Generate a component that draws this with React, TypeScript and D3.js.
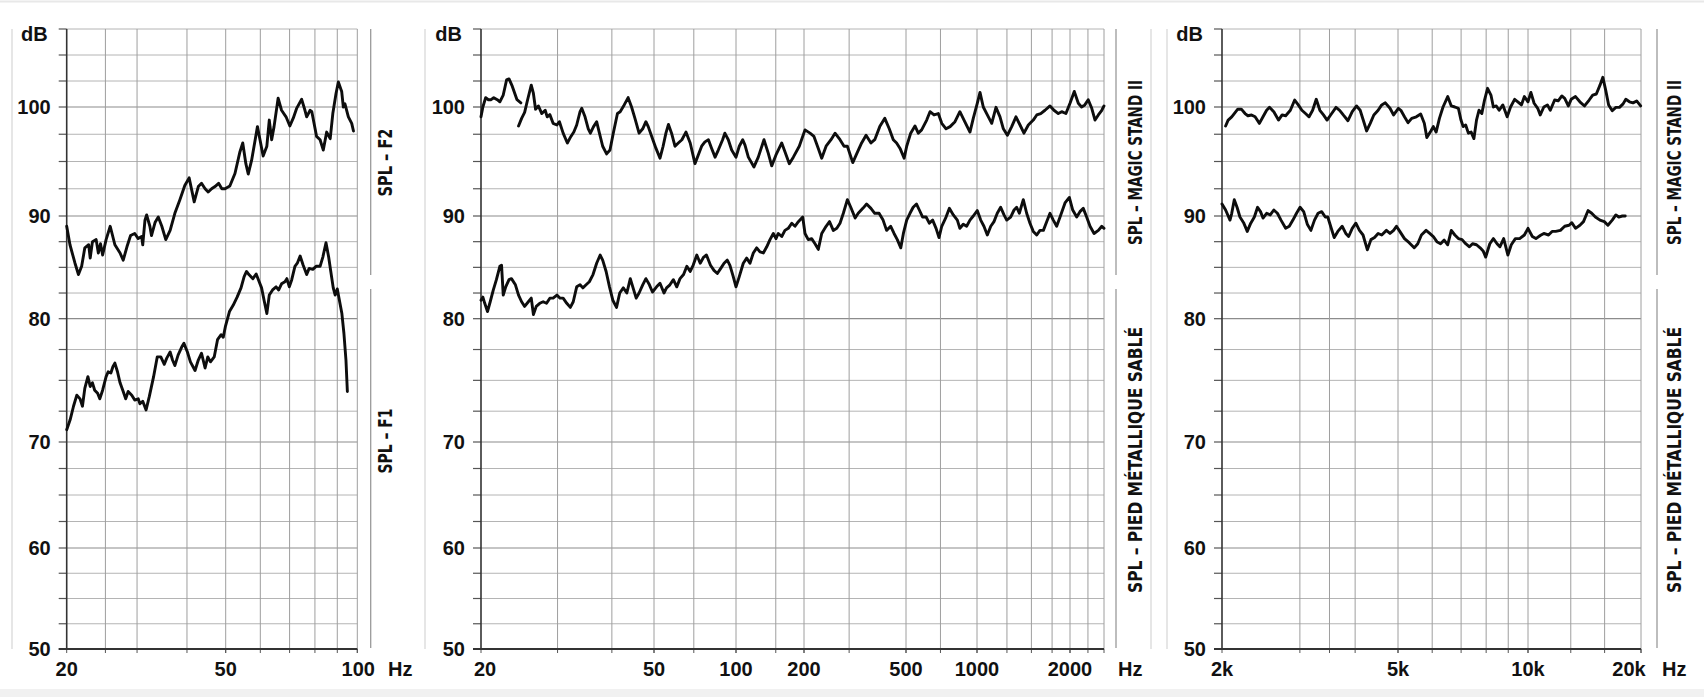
import React from "react";
import * as d3 from "d3";

type Pt = [number, number];

// ---------------- DATA ----------------
// dB axis
const dbLabels = [50, 60, 70, 80, 90, 100];
const dbGrid = [50, 52.5, 55, 57.5, 60, 62.5, 65, 67.5, 70, 72.5, 75, 77.5, 80, 82.5, 85, 87.5, 90, 92.5, 95, 97.5, 100, 102.5, 105, 107.5];
const dbStops = [50, 60, 70, 80, 90, 100, 107.5];

// Panel 1 : 20 - 100 Hz
const p1Stops = [20, 50, 100];
const p1Grid = [25, 30, 40, 50, 60, 70, 80, 90, 100];
const p1TickFreqs = [20, 50, 100];
const p1TickLabels = ["20", "50", "100"];

// Panel 2 : 20 - 2500 Hz
const p2Stops = [20, 50, 100, 200, 500, 1000, 2000, 2500];
const p2Grid = [30, 40, 50, 70, 100, 150, 200, 300, 500, 700, 1000, 1250, 1500, 1750, 2000, 2250, 2500];
const p2TickFreqs = [20, 50, 100, 200, 500, 1000, 2000];
const p2TickLabels = ["20", "50", "100", "200", "500", "1000", "2000"];

// Panel 3 : 2k - 20k Hz
const p3Stops = [2000, 5000, 10000, 20000];
const p3Grid = [3000, 3500, 4000, 5000, 6000, 7000, 8000, 9000, 10000, 13000, 16000, 20000];
const p3TickFreqs = [2000, 5000, 10000, 20000];
const p3TickLabels = ["2k", "5k", "10k", "20k"];

// Series [Hz, dB]
const p1_F2: Pt[] = [
  [20.0, 89.0], [20.38, 87.2], [20.98, 85.4], [21.4, 84.3], [21.8, 85.1], [22.2, 86.9], [22.7, 87.2], [22.9, 85.9],
  [23.2, 87.5], [23.7, 87.7], [24.0, 86.4], [24.3, 87.3], [24.6, 86.2], [25.1, 87.7], [25.7, 89.0], [26.4, 87.2],
  [27.2, 86.4], [27.7, 85.7], [28.3, 87.0], [28.9, 88.1], [29.6, 88.3], [30.2, 87.8], [30.8, 88.0], [31.0, 87.2],
  [31.4, 89.6], [31.7, 90.1], [32.3, 89.0], [32.6, 88.1], [33.3, 89.4], [33.9, 89.9], [34.6, 89.0], [35.4, 87.7],
  [36.3, 88.6], [37.3, 90.25], [38.4, 91.5], [39.5, 92.8], [40.5, 93.5], [41.1, 92.4], [41.7, 91.3], [42.7, 92.7],
  [43.5, 93.0], [44.4, 92.5], [45.2, 92.2], [46.1, 92.5], [47.0, 92.7], [48.0, 93.0], [48.9, 92.5], [49.8, 92.5],
  [51.1, 92.75], [52.5, 93.9], [53.9, 95.9], [54.7, 96.7], [55.6, 94.8], [56.3, 93.85], [57.3, 95.1], [58.4, 97.0],
  [59.1, 98.2], [59.9, 97.0], [60.9, 95.5], [62.1, 96.4], [62.9, 98.8], [63.7, 97.0], [64.5, 98.2], [65.9, 100.84],
  [67.1, 99.7], [68.7, 99.1], [70.1, 98.26], [71.4, 99.0], [72.7, 99.9], [74.6, 100.74], [75.9, 99.7], [76.6, 99.1],
  [78.0, 99.7], [78.7, 99.57], [80.7, 97.3], [82.2, 97.0], [83.6, 96.05], [85.1, 97.7], [86.7, 97.1], [87.9, 99.4],
  [89.4, 101.3], [90.5, 102.4], [92.1, 101.5], [92.9, 100.0], [93.7, 100.3], [95.4, 99.1], [97.1, 98.5], [98.0, 97.8],
];

const p1_F1: Pt[] = [
  [20.0, 71.0], [20.4, 71.8], [20.8, 72.9], [21.2, 73.8], [21.6, 73.5], [21.9, 72.9], [22.2, 74.35], [22.6, 75.3],
  [22.9, 74.5], [23.2, 74.8], [23.5, 74.2], [23.9, 73.95], [24.2, 73.5], [24.6, 74.2], [25.1, 75.3], [25.4, 75.7],
  [25.8, 75.6], [26.1, 76.1], [26.4, 76.4], [26.8, 75.7], [27.2, 74.8], [27.7, 74.1], [28.1, 73.5], [28.5, 74.1],
  [29.1, 73.8], [29.6, 73.4], [30.2, 73.5], [30.5, 73.1], [31.0, 73.3], [31.6, 72.6], [32.2, 73.7], [33.0, 75.3],
  [33.7, 76.9], [34.4, 76.9], [35.1, 76.3], [35.6, 76.8], [36.3, 77.3], [36.8, 76.65], [37.3, 76.2], [38.0, 77.05],
  [38.8, 77.7], [39.3, 78.0], [40.1, 77.3], [40.8, 76.5], [41.9, 75.8], [42.7, 76.65], [43.5, 77.2], [44.4, 76.0],
  [45.1, 76.9], [45.8, 76.5], [46.8, 76.9], [47.7, 78.3], [48.7, 78.7], [49.3, 78.5], [49.9, 79.35], [51.0, 80.7],
  [52.0, 81.3], [53.1, 82.1], [54.2, 83.0], [55.1, 84.1], [55.8, 84.6], [56.5, 84.3], [57.7, 83.9], [58.7, 84.35],
  [59.4, 83.8], [60.4, 83.0], [61.2, 81.8], [62.1, 80.5], [62.9, 82.3], [64.0, 82.8], [65.2, 83.1], [66.1, 82.8],
  [67.1, 83.4], [68.3, 83.6], [69.0, 83.9], [69.9, 83.1], [70.8, 83.8], [72.0, 85.1], [72.9, 85.4], [74.0, 86.1],
  [75.2, 85.2], [76.6, 84.3], [77.6, 84.9], [79.1, 84.8], [80.5, 85.1], [82.2, 85.1], [83.4, 86.0], [84.8, 87.4],
  [86.0, 86.0], [86.9, 84.7], [88.1, 83.0], [89.0, 82.3], [90.0, 82.9], [91.0, 81.8], [92.2, 80.5], [93.2, 78.8],
  [94.2, 76.65], [94.9, 74.1],
];

const p2_magicStand_a: Pt[] = [
  [20.0, 99.1], [20.2, 100.0], [20.5, 100.9], [20.8, 100.7], [21.1, 100.7], [21.4, 100.9], [21.8, 100.7],
  [22.1, 100.5], [22.5, 101.15], [22.9, 102.6], [23.2, 102.7], [23.6, 102.0], [24.2, 100.7], [24.7, 100.4],
];

const p2_magicStand_b: Pt[] = [
  [24.4, 98.26], [24.8, 98.96], [25.2, 99.5], [25.6, 100.7], [26.1, 102.1], [26.4, 101.3], [26.7, 99.8], [27.1, 100.1],
  [27.6, 99.4], [28.1, 99.7], [28.4, 99.1], [28.8, 99.3], [29.3, 98.5], [29.9, 98.35], [30.3, 98.65], [30.9, 97.6],
  [31.6, 96.7], [32.2, 97.3], [32.7, 97.7], [33.2, 98.35], [33.8, 99.57], [34.1, 99.88], [34.7, 99.1], [35.3, 98.0],
  [35.7, 97.6], [36.3, 98.2], [36.9, 98.65], [37.4, 97.7], [38.1, 96.4], [38.9, 95.7], [39.6, 96.05], [40.3, 97.6],
  [41.2, 99.4], [41.8, 99.57], [42.7, 100.2], [43.6, 100.9], [44.4, 100.0], [45.2, 98.96], [46.2, 97.6], [47.1, 98.0],
  [47.9, 98.65], [48.5, 98.2], [49.4, 97.3], [50.85, 96.2], [52.6, 95.3], [54.0, 96.4], [55.3, 97.6], [56.5, 98.4],
  [58.0, 97.6], [59.7, 96.4], [61.4, 96.7], [63.3, 97.0], [65.5, 97.7], [67.9, 96.7], [70.7, 94.8], [72.7, 95.6],
  [74.8, 96.4], [76.9, 96.8], [79.2, 97.0], [81.4, 96.2], [83.8, 95.4], [86.1, 96.05], [89.3, 97.0], [91.0, 97.6],
  [93.7, 97.0], [96.4, 96.05], [100, 95.4], [103.4, 96.4], [107.1, 97.0], [109.6, 96.5], [113.4, 95.4],
  [120.1, 94.5], [125.5, 95.4], [133.0, 97.0], [139.0, 95.75], [143.9, 94.6], [150.3, 95.6], [159.4, 96.7],
  [164.7, 95.9], [172.2, 94.8], [179.4, 95.4], [190.6, 96.4], [201.8, 97.9], [211.1, 97.6], [218.7, 97.3],
  [227.4, 96.2], [234.5, 95.3], [243.9, 96.4], [254.9, 97.0], [264.3, 97.6], [276.4, 97.0], [286.6, 96.4],
  [295.3, 96.4], [310.0, 94.9], [321.6, 95.75], [335.6, 96.7], [349.3, 97.4], [364.9, 96.7], [377.6, 97.0],
  [395.0, 98.2], [413.3, 98.96], [430.2, 98.0], [446.0, 97.0], [459.5, 96.7], [474.0, 96.2], [491.7, 95.3],
  [503.4, 96.4], [523.4, 97.6], [545.7, 98.26], [563.6, 97.6], [582.5, 97.9], [612.0, 98.8], [632.1, 99.57],
  [657.3, 99.27], [685.4, 99.4], [708.8, 98.5], [739.2, 98.0], [769.0, 98.2], [806.6, 98.65], [846.0, 99.57],
  [887.3, 98.65], [933.6, 97.7], [964.2, 98.96], [1002, 100.36], [1022.6, 101.4], [1048, 100.0], [1080, 99.27],
  [1116, 98.5], [1152, 99.97], [1187, 99.1], [1217, 98.0], [1254, 97.4], [1295, 98.2], [1337, 99.1], [1378, 98.35],
  [1419, 97.6], [1466, 98.35], [1521, 98.8], [1561, 99.27], [1608, 99.4], [1660, 99.7], [1723, 100.1], [1775, 99.7],
  [1833, 99.4], [1880, 99.57], [1940, 99.4], [2000, 100.36], [2057, 101.5], [2112, 100.36], [2158, 100.0],
  [2204, 100.2], [2254, 100.7], [2307, 99.88], [2357, 98.8], [2409, 99.27], [2464, 99.7], [2500, 100.1],
];

const p2_piedMetal: Pt[] = [
  [20.0, 81.8], [20.2, 82.1], [20.4, 81.5], [20.7, 80.7], [21.0, 81.65], [21.35, 82.8], [21.7, 83.8], [22.1, 85.1],
  [22.3, 85.2], [22.5, 82.3], [22.8, 83.1], [23.2, 83.8], [23.5, 83.9], [24.0, 83.3], [24.4, 82.3], [24.8, 81.65],
  [25.2, 81.2], [25.7, 81.65], [26.1, 82.0], [26.4, 80.4], [26.8, 81.2], [27.3, 81.5], [27.8, 81.65], [28.3, 81.5],
  [28.8, 82.0], [29.3, 82.0], [29.9, 82.3], [30.4, 82.0], [30.9, 82.0], [31.5, 81.5], [32.1, 81.1], [32.6, 81.65],
  [33.2, 83.1], [33.8, 83.3], [34.3, 83.0], [34.9, 83.3], [35.5, 83.6], [36.2, 84.3], [36.9, 85.4], [37.6, 86.2],
  [38.1, 85.7], [38.8, 84.6], [39.5, 83.1], [40.2, 81.8], [41.0, 81.1], [41.7, 82.5], [42.5, 83.0], [43.3, 82.5],
  [44.1, 83.9], [44.9, 82.8], [45.5, 82.0], [46.2, 82.5], [47.1, 83.3], [47.9, 83.9], [48.8, 83.3], [49.6, 82.6],
  [51.1, 83.1], [52.6, 83.45], [54.4, 82.5], [55.6, 83.0], [57.2, 83.3], [58.9, 83.8], [60.6, 83.1], [62.3, 83.9],
  [64.2, 84.3], [66.0, 85.1], [67.9, 84.6], [69.6, 85.2], [71.8, 86.2], [73.9, 85.4], [76.1, 86.0], [77.9, 86.2],
  [80.6, 85.2], [83.0, 84.7], [85.4, 84.4], [87.9, 84.9], [90.4, 85.4], [92.9, 85.7], [95.0, 85.2], [97.7, 84.1],
  [100, 83.1], [103.4, 84.1], [107.7, 85.4], [111.5, 85.9], [115.3, 85.4], [119.3, 86.4], [123.5, 86.9], [127.7, 86.5],
  [132.1, 86.4], [136.8, 87.0], [141.4, 87.7], [146.3, 88.3], [150.3, 87.8], [153.9, 88.3], [159.4, 88.0],
  [164.7, 88.6], [170.4, 88.8], [176.5, 89.3], [182.5, 89.0], [188.8, 89.45], [197.4, 89.9], [201.8, 88.3],
  [207.8, 87.7], [214.2, 87.8], [220.8, 87.3], [227.4, 86.75], [234.5, 88.3], [243.9, 89.0], [251.5, 89.45],
  [260.2, 88.6], [268.5, 88.8], [276.4, 89.3], [284.8, 90.25], [295.3, 91.5], [304.4, 90.8], [316.6, 89.8],
  [325.5, 90.25], [339.4, 90.7], [351.0, 91.1], [364.9, 90.7], [377.6, 90.25], [392.5, 90.25], [407.0, 89.6],
  [420.0, 88.6], [435.8, 89.0], [449.1, 88.3], [462.4, 87.7], [477.2, 86.9], [488.4, 88.3], [503.4, 89.6],
  [519.9, 90.25], [536.3, 90.8], [554.1, 91.1], [569.5, 90.55], [588.2, 89.9], [608.4, 89.9], [627.7, 89.3],
  [648.5, 89.6], [670.6, 88.8], [690.1, 87.9], [708.8, 89.0], [739.2, 89.9], [763.5, 90.7], [793.5, 90.1],
  [825.3, 89.6], [846.0, 88.8], [874.3, 89.2], [903.7, 89.0], [933.6, 89.6], [964.2, 90.0], [1002, 90.5],
  [1028, 89.6], [1053, 89.0], [1080, 88.15], [1108, 89.0], [1135, 89.45], [1163, 90.25], [1193, 90.8], [1223, 90.1],
  [1248, 89.6], [1285, 89.9], [1318, 90.55], [1344, 90.8], [1371, 90.25], [1412, 91.5], [1448, 90.25], [1484, 89.3],
  [1521, 88.5], [1561, 88.15], [1599, 88.6], [1640, 88.6], [1681, 89.45], [1723, 90.25], [1766, 89.6], [1811, 89.0],
  [1857, 89.9], [1927, 91.2], [1990, 91.7], [2036, 90.55], [2090, 89.9], [2135, 90.4], [2182, 90.7], [2231, 89.9],
  [2281, 89.0], [2342, 88.3], [2409, 88.6], [2464, 89.0], [2500, 88.8],
];

const p3_magicStand: Pt[] = [
  [2038, 98.26], [2065, 98.8], [2104, 99.1], [2132, 99.4], [2171, 99.8], [2212, 99.8], [2255, 99.4], [2289, 99.2],
  [2332, 99.27], [2376, 99.1], [2430, 98.5], [2476, 99.1], [2523, 99.7], [2561, 99.97], [2619, 99.57], [2684, 98.8],
  [2735, 99.27], [2786, 99.2], [2855, 99.7], [2920, 100.67], [2975, 100.2], [3031, 99.7], [3089, 99.4], [3147, 99.1],
  [3206, 99.7], [3267, 100.74], [3329, 99.7], [3392, 99.27], [3456, 98.8], [3521, 99.27], [3621, 99.97], [3690, 99.7],
  [3760, 99.27], [3853, 98.74], [3940, 99.57], [4030, 100.1], [4106, 99.7], [4184, 98.65], [4247, 97.8], [4327, 98.5],
  [4409, 99.27], [4509, 99.7], [4594, 100.2], [4681, 100.4], [4796, 99.88], [4887, 99.27], [5010, 99.88], [5077, 99.7],
  [5176, 99.1], [5276, 98.56], [5379, 98.96], [5514, 99.1], [5643, 99.36], [5753, 98.5], [5831, 97.2], [5958, 97.8],
  [6036, 98.2], [6127, 97.7], [6236, 98.96], [6357, 100.0], [6518, 101.0], [6643, 100.1], [6770, 100.0], [6899, 99.88],
  [6995, 98.8], [7078, 98.2], [7173, 98.35], [7276, 97.6], [7385, 97.7], [7495, 97.1], [7599, 98.8], [7700, 99.7],
  [7818, 99.4], [7931, 100.67], [8061, 101.8], [8207, 101.15], [8315, 100.0], [8445, 100.1], [8574, 99.7],
  [8745, 100.2], [8949, 99.1], [9112, 100.0], [9312, 100.74], [9473, 100.5], [9655, 100.2], [9809, 101.0],
  [10000, 100.5], [10178, 101.4], [10382, 100.36], [10614, 99.88], [10780, 99.27], [11020, 100.0], [11266, 100.2],
  [11467, 99.7], [11775, 100.67], [12036, 100.6], [12307, 101.06], [12525, 100.84], [12805, 100.1], [13031, 100.74],
  [13384, 101.0], [13747, 100.5], [14142, 100.1], [14553, 100.67], [14873, 101.15], [15207, 101.25], [15551, 102.1],
  [15826, 102.86], [16110, 101.6], [16399, 100.2], [16766, 99.66], [17142, 99.97], [17527, 99.97], [17920, 100.3],
  [18221, 100.74], [18629, 100.5], [19047, 100.4], [19474, 100.58], [19956, 100.1],
];

const p3_piedMetal: Pt[] = [
  [2000, 91.1], [2038, 90.55], [2085, 89.6], [2104, 90.25], [2132, 91.5], [2163, 90.8], [2196, 89.9], [2238, 89.35],
  [2281, 88.5], [2323, 89.3], [2367, 89.9], [2407, 90.8], [2444, 90.4], [2476, 89.8], [2523, 90.25], [2571, 90.1],
  [2619, 90.55], [2669, 90.25], [2719, 89.6], [2786, 88.8], [2839, 89.0], [2893, 89.6], [2948, 90.25], [3003, 90.8],
  [3060, 90.4], [3118, 89.2], [3177, 88.6], [3237, 89.6], [3298, 90.25], [3360, 90.4], [3424, 89.9], [3469, 89.9],
  [3521, 89.0], [3587, 87.9], [3655, 88.5], [3739, 89.0], [3810, 88.3], [3867, 88.0], [3940, 88.8], [4015, 89.3],
  [4091, 88.6], [4168, 88.15], [4263, 86.7], [4343, 87.7], [4425, 87.9], [4509, 88.3], [4594, 88.15], [4707, 88.6],
  [4796, 88.3], [4887, 88.6], [4960, 89.0], [5048, 88.5], [5176, 87.8], [5307, 87.4], [5451, 86.9], [5556, 87.3],
  [5665, 88.15], [5808, 88.6], [5921, 88.3], [6036, 88.0], [6151, 87.5], [6274, 87.3], [6395, 87.65], [6518, 87.2],
  [6643, 88.6], [6770, 88.15], [6899, 87.8], [7037, 87.7], [7173, 87.3], [7319, 87.0], [7441, 87.3], [7599, 87.2],
  [7748, 86.9], [7872, 86.6], [7981, 86.0], [8158, 87.3], [8315, 87.8], [8478, 87.3], [8607, 87.0], [8784, 87.8],
  [8984, 86.2], [9147, 87.2], [9348, 87.8], [9564, 87.8], [9809, 88.15], [10000, 88.8], [10268, 88.0], [10498, 87.8],
  [10780, 88.1], [11020, 88.3], [11341, 88.15], [11593, 88.5], [11852, 88.5], [12198, 88.6], [12525, 89.0],
  [12863, 89.1], [13088, 89.35], [13384, 88.8], [13747, 89.1], [14055, 89.45], [14459, 90.5], [14781, 90.25],
  [15120, 89.9], [15551, 89.6], [15970, 89.45], [16326, 89.1], [16766, 89.6], [17142, 90.1], [17450, 89.9],
  [17834, 90.0], [18158, 90.0],
];

// ---------------- LAYOUT ----------------
const W = 1704;
const H = 697;
const TOP = 29;
const BOTTOM = 649;
const yStopPx = [649, 548, 442, 318.7, 216, 107, 29];

const FONT = "'Liberation Sans', Arial, Helvetica, sans-serif";
const NARROW = "'Liberation Sans Narrow', 'DejaVu Sans Condensed', 'Liberation Sans', sans-serif";
const LABEL_SIZE = 20;

interface Panel {
  stops: number[];
  stopPx: number[];
  grid: number[];
  ticks: number[];
  labels: string[];
  labelShift: number[];
  hzX: number;
  series: Pt[][];
  bracketX: number;
  textX: number;
  topText: string;
  topLen: number;
  botText: string;
  botLen: number;
  botCy: number;
}

const panels: Panel[] = [
  {
    stops: p1Stops, stopPx: [66.7, 225.7, 357.3], grid: p1Grid, ticks: p1TickFreqs, labels: p1TickLabels,
    labelShift: [0, 0, 1], hzX: 388, series: [p1_F2, p1_F1], bracketX: 370.7, textX: 391.5,
    topText: "SPL – F2", topLen: 68, botText: "SPL – F1", botLen: 65, botCy: 441,
  },
  {
    stops: p2Stops, stopPx: [481, 654, 736, 804, 906, 977, 1070, 1104], grid: p2Grid, ticks: p2TickFreqs,
    labels: p2TickLabels, labelShift: [4, 0, 0, 0, 0, 0, 0], hzX: 1118,
    series: [p2_magicStand_a, p2_magicStand_b, p2_piedMetal], bracketX: 1116, textX: 1141.5,
    topText: "SPL – MAGIC STAND II", topLen: 165, botText: "SPL – PIED MÉTALLIQUE SABLÉ", botLen: 266, botCy: 460,
  },
  {
    stops: p3Stops, stopPx: [1222, 1398, 1528, 1641], grid: p3Grid, ticks: p3TickFreqs, labels: p3TickLabels,
    labelShift: [0, 0, 0, -12], hzX: 1662, series: [p3_magicStand, p3_piedMetal], bracketX: 1657, textX: 1681,
    topText: "SPL – MAGIC STAND II", topLen: 165, botText: "SPL – PIED MÉTALLIQUE SABLÉ", botLen: 266, botCy: 460,
  },
];

const pageRules = [12, 425, 1151, 1167];

const y = d3.scaleLinear().domain(dbStops).range(yStopPx);

function PanelView({ p }: { p: Panel }) {
  const x = d3.scaleLog().domain(p.stops).range(p.stopPx);
  const left = p.stopPx[0];
  const right = p.stopPx[p.stopPx.length - 1];
  const line = d3
    .line<Pt>()
    .x((d) => x(d[0]))
    .y((d) => y(d[1]));

  return (
    <g>
      {/* horizontal grid */}
      {dbGrid.map((v) => (
        <line
          key={"h" + v}
          x1={left}
          x2={right}
          y1={y(v)}
          y2={y(v)}
          stroke={v % 10 === 0 ? "#8c8c8c" : "#b4b4b4"}
          strokeWidth={v % 10 === 0 ? 1.2 : 1}
        />
      ))}
      {/* vertical grid */}
      {p.grid.map((f) => (
        <line key={"v" + f} x1={x(f)} x2={x(f)} y1={TOP} y2={BOTTOM} stroke="#9e9e9e" strokeWidth={1} />
      ))}
      {/* y ticks */}
      {dbGrid.map((v) => (
        <line key={"yt" + v} x1={left - 8} x2={left} y1={y(v)} y2={y(v)} stroke="#555" strokeWidth={1.2} />
      ))}
      {/* x ticks */}
      {p.grid.concat(p.ticks).map((f, i) => (
        <line key={"xt" + i} x1={x(f)} x2={x(f)} y1={BOTTOM} y2={BOTTOM + 4} stroke="#555" strokeWidth={1} />
      ))}
      {/* axes */}
      <line x1={left} x2={left} y1={TOP} y2={BOTTOM} stroke="#333" strokeWidth={1.6} />
      <line x1={left - 8} x2={right} y1={BOTTOM} y2={BOTTOM} stroke="#333" strokeWidth={2} />
      {/* y labels */}
      {dbLabels.map((v) => (
        <text
          key={"yl" + v}
          x={left - 16}
          y={y(v)}
          dy="0.36em"
          textAnchor="end"
          fontFamily={FONT}
          fontWeight="bold"
          fontSize={LABEL_SIZE}
          fill="#111"
        >
          {v}
        </text>
      ))}
      <text x={left - 19} y={41} textAnchor="end" fontFamily={FONT} fontWeight="bold" fontSize={LABEL_SIZE} fill="#111">
        dB
      </text>
      {/* x labels */}
      {p.ticks.map((f, i) => (
        <text
          key={"xl" + f}
          x={x(f) + p.labelShift[i]}
          y={675.5}
          textAnchor="middle"
          fontFamily={FONT}
          fontWeight="bold"
          fontSize={LABEL_SIZE}
          fill="#111"
        >
          {p.labels[i]}
        </text>
      ))}
      <text x={p.hzX} y={675.5} fontFamily={FONT} fontWeight="bold" fontSize={LABEL_SIZE} fill="#111">
        Hz
      </text>
      {/* curves */}
      {p.series.map((s, i) => (
        <path
          key={"s" + i}
          d={line(s) || ""}
          fill="none"
          stroke="#0d0d0d"
          strokeWidth={2.9}
          strokeLinejoin="round"
          strokeLinecap="round"
        />
      ))}
      {/* brackets + vertical labels */}
      <line x1={p.bracketX} x2={p.bracketX} y1={TOP} y2={275} stroke="#9a9a9a" strokeWidth={1.3} />
      <line x1={p.bracketX} x2={p.bracketX} y1={289} y2={648} stroke="#9a9a9a" strokeWidth={1.3} />
      <text
        transform={`translate(${p.textX},162.5) rotate(-90)`}
        textAnchor="middle"
        fontFamily={NARROW}
        fontWeight="bold"
        fontSize={19}
        textLength={p.topLen}
        lengthAdjust="spacingAndGlyphs"
        fill="#111"
      >
        {p.topText}
      </text>
      <text
        transform={`translate(${p.textX},${p.botCy}) rotate(-90)`}
        textAnchor="middle"
        fontFamily={NARROW}
        fontWeight="bold"
        fontSize={19}
        textLength={p.botLen}
        lengthAdjust="spacingAndGlyphs"
        fill="#111"
      >
        {p.botText}
      </text>
    </g>
  );
}

export default function App() {
  return (
    <div style={{ position: "absolute", left: 0, top: 0, width: W, height: H }}>
      <svg width={W} height={H} viewBox={`0 0 ${W} ${H}`} style={{ display: "block", background: "#fff" }}>
        <rect x={0} y={0} width={W} height={H} fill="#fff" />
        <line x1={0} x2={W} y1={1.5} y2={1.5} stroke="#e8e8e8" strokeWidth={2} />
        <rect x={0} y={689} width={W} height={8} fill="#f1f1f1" />
        {pageRules.map((rx) => (
          <line key={"r" + rx} x1={rx} x2={rx} y1={TOP} y2={BOTTOM} stroke="#cdcdcd" strokeWidth={1} />
        ))}
        {panels.map((p, i) => (
          <PanelView key={i} p={p} />
        ))}
      </svg>
    </div>
  );
}
